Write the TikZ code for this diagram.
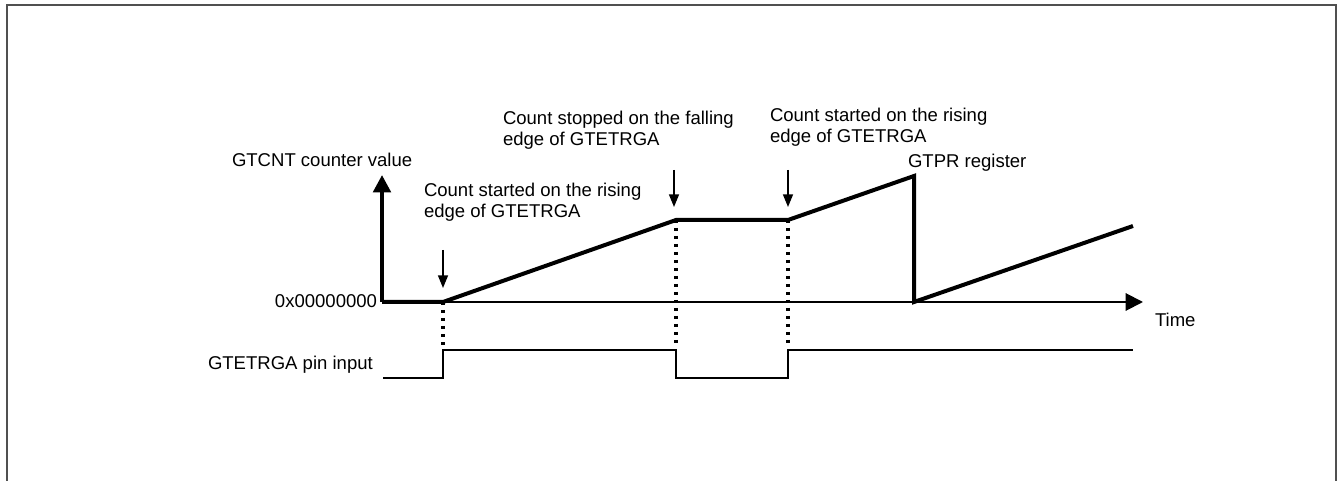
\documentclass[tikz,border=0pt]{standalone}
\usepackage{fontspec}
\setmainfont{Liberation Sans}
\usepackage{xcolor}
\usetikzlibrary{arrows.meta}
\definecolor{framegray}{HTML}{505050}
\definecolor{ink}{HTML}{000000}
\tikzset{
  frame/.style  = {draw=framegray, line width=1.5pt},
  taxis/.style  = {draw=ink, line width=1.5pt, -{Triangle[length=13pt,width=13pt]}},
  vaxis/.style  = {draw=ink, line width=3pt, -{Triangle[length=13pt,width=13pt]}},
  count/.style  = {draw=ink, line width=3pt, line join=miter},
  pin/.style    = {draw=ink, line width=1.5pt},
  edgemark/.style = {draw=ink, line width=1.1pt, -{Triangle[length=9.5pt,width=7.5pt]}},
  guide/.style  = {draw=ink, line width=2.4pt, dash pattern=on 2.4pt off 3.6pt},
  lab/.style    = {font=\fontsize{13.9}{16.2}\selectfont, inner sep=0pt, outer sep=0pt},
}
\begin{document}
\begin{tikzpicture}[x=0.75pt,y=-0.75pt]
\path[use as bounding box] (0,0) rectangle (1340,481);

% ---- frame ---------------------------------------------------------------
\draw[frame] (6.5,482) -- (6.5,5) -- (1335.5,5) -- (1335.5,482);

% ---- key points ----------------------------------------------------------
\coordinate (origin) at (382,302);
\coordinate (ytop)   at (382,175);
\coordinate (xend)   at (1143,302);
\coordinate (c1) at (443,302);
\coordinate (c2) at (676,220);
\coordinate (c3) at (788,220);
\coordinate (c4) at (914,176);
\coordinate (c5) at (914,302);
\coordinate (c6) at (1133,226);

% ---- axes ----------------------------------------------------------------
\draw[taxis] (origin) -- (xend);
\draw[vaxis] (origin) -- (ytop);
\node[lab, anchor=base west] (yname) at (232,167) {GTCNT counter value};
\node[lab, anchor=base east] (zero) at (377,307) {0x00000000};
\node[lab, anchor=base west] (tname) at (1155,326) {Time};

% ---- counter value -------------------------------------------------------
\draw[count] (origin) -- (c1) -- (c2) -- (c3) -- (c4) -- (c5) -- (c6);
\node[lab, anchor=base west] (gtpr) at (908,168) {GTPR register};

% ---- pin input -----------------------------------------------------------
\coordinate (p0) at (383,378);
\coordinate (p1) at (443,350);
\coordinate (p2) at (676,350);
\coordinate (p3) at (788,350);
\coordinate (p4) at (1133,350);
\draw[pin] (p0) -- (p0 -| p1) -- (p1) -- (p2) -- (p2 |- p0) -- (p3 |- p0) -- (p3) -- (p4);
\node[lab, anchor=base west] (pinname) at (208,369) {GTETRGA pin input};

% ---- edges ---------------------------------------------------------------
\foreach \a/\b in {c1/p1, c2/p2, c3/p3}
  \draw[guide] (\a) -- ([yshift=3.5]\b);

\coordinate (m1) at (443,250);
\coordinate (e1) at (443,288);
\coordinate (m2) at (674,170);
\coordinate (e2) at (674,207);
\coordinate (m3) at (788,170);
\coordinate (e3) at (788,207);
\draw[edgemark] (m1) -- (e1);
\draw[edgemark] (m2) -- (e2);
\draw[edgemark] (m3) -- (e3);

\node[lab, anchor=base west, align=left] (start1) at (424,218)
  {Count started on the rising\\edge of GTETRGA};
\node[lab, anchor=base west, align=left] (stop) at (503,146)
  {Count stopped on the falling\\edge of GTETRGA};
\node[lab, anchor=base west, align=left] (start2) at (770,143)
  {Count started on the rising\\edge of GTETRGA};

\end{tikzpicture}
\end{document}
